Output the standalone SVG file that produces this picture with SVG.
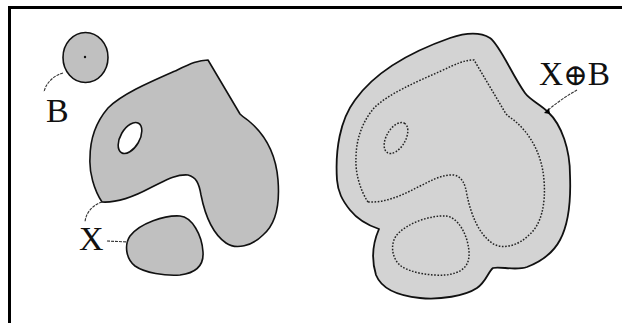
<svg xmlns="http://www.w3.org/2000/svg" width="631" height="323" viewBox="0 0 631 323">
<style>
.frame{stroke:#000;stroke-width:3;fill:none}
.shp{fill:#c0c0c0;stroke:#111;stroke-width:1.6;stroke-linejoin:round}
.hole{fill:#fff;stroke:#111;stroke-width:1.6}
.dil{fill:#d3d3d3;stroke:#111;stroke-width:1.8;stroke-linejoin:round}
.dot{fill:none;stroke:#222;stroke-width:1.5;stroke-dasharray:1.6 1.6}
.lead{fill:none;stroke:#333;stroke-width:1.1;stroke-dasharray:3 1}
.lbl{font-family:"Liberation Serif","DejaVu Serif",serif;font-size:34px;fill:#111}
</style>
<defs>
<path id="xmain" d="M102,202 C94,190 89,172 90,158 C90,140 96,122 108,108 C122,94 150,82 175,71 C190,64 198,60 208,60 L240,114 C244,118 247,119 250,122 C265,135 276,155 278,180 C280,205 275,225 263,235 C252,246 236,250 226,243 C213,234 205,215 201,195 C199,183 196,177 188,175 C175,174 163,182 150,188 C135,196 118,203 102,202 Z"/>
<path id="xblob" d="M180,216 C192,217 202,235 203,252 C204,266 196,273 180,275 C165,276 145,273 135,266 C126,259 124,245 130,236 C140,223 165,215 180,216 Z"/>
<ellipse id="xhole" cx="130" cy="138" rx="17" ry="9.5" transform="rotate(-60 130 138)"/>
</defs>
<g id="frame">
<path class="frame" d="M8,7.5 H622 M9.5,6 V323"/>
</g>
<g id="B">
<ellipse class="shp" cx="85.5" cy="57.5" rx="22.5" ry="25"/>
<circle cx="85" cy="57" r="1.2" fill="#111"/>
</g>
<g id="X">
<use href="#xmain" class="shp"/>
<use href="#xhole" class="hole"/>
<use href="#xblob" class="shp"/>
</g>
<g id="XplusB">
<path class="dil" d="M337,180 C335,150 340,120 355,100 C375,72 410,52 450,38 C465,33 480,32 490,38 C500,45 512,75 525,93 C530,100 540,104 548,112 C562,125 570,150 570,175 C571,200 568,225 560,240 C552,255 540,262 527,267 C515,271 500,266 493,268 C488,272 486,282 477,288 C465,296 440,300 420,298 C400,296 382,290 376,275 C372,262 372,245 379,229 C370,226 358,220 350,210 C342,200 338,192 337,180 Z"/>
<g transform="translate(266,0)">
<use href="#xmain" class="dot"/>
<use href="#xhole" class="dot"/>
<use href="#xblob" class="dot"/>
</g>
</g>
<g id="connectors">
<path class="lead" d="M63,73 C55,75 46,82 44,92"/>
<path class="lead" d="M102,202 C93,205 86,212 85,222"/>
<path class="lead" d="M107,241 L128,242"/>
<path class="lead" d="M577,90 C568,95 556,103 547,111"/>
<polygon points="544,113 549,108 550,114" fill="#000"/>
</g>
<g id="labels">
<text class="lbl" x="46" y="122">B</text>
<text class="lbl" x="79" y="250">X</text>
<text class="lbl" x="539" y="85" textLength="71" lengthAdjust="spacingAndGlyphs">X<tspan font-size="30" font-family="DejaVu Serif, serif">⊕</tspan>B</text>
</g>
</svg>
